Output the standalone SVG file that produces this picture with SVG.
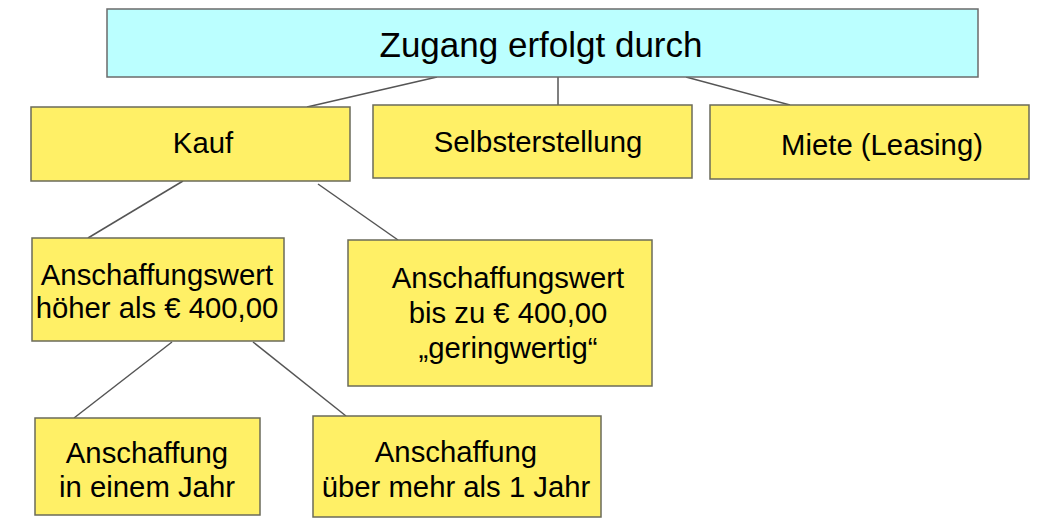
<svg xmlns="http://www.w3.org/2000/svg" width="1047" height="526" viewBox="0 0 1047 526">
<style>
.box{fill:#FFF066;stroke:#6b6b5a;stroke-width:1.5}
.top{fill:#BBFFFF;stroke:#6b6b6b;stroke-width:1.5}
.t{font-family:"Liberation Sans",Arial,sans-serif;font-size:29.3px;fill:#000;text-anchor:middle}
.tt{font-family:"Liberation Sans",Arial,sans-serif;font-size:35px;fill:#000;text-anchor:middle}
.c line{stroke:#555;stroke-width:1.5}
</style>
<rect width="1047" height="526" fill="#fff"/>
<g class="c" id="connectors">
<line x1="437" y1="77" x2="307" y2="107"/>
<line x1="558" y1="77" x2="558" y2="105"/>
<line x1="686" y1="77" x2="790" y2="105"/>
<line x1="183" y1="181" x2="88" y2="238"/>
<line x1="318" y1="184" x2="398" y2="240"/>
<line x1="172" y1="342" x2="74" y2="418"/>
<line x1="253" y1="342" x2="346" y2="416"/>
</g>
<g id="n_zugang">
<rect class="top" x="107" y="9" width="871" height="68"/>
<text class="tt" x="541" y="57">Zugang erfolgt durch</text>
</g>
<g id="n_kauf">
<rect class="box" x="31" y="107" width="319" height="74"/>
<text class="t" x="203" y="153">Kauf</text>
</g>
<g id="n_selbst">
<rect class="box" x="373" y="105" width="319" height="73"/>
<text class="t" x="538" y="152">Selbsterstellung</text>
</g>
<g id="n_miete">
<rect class="box" x="710" y="105" width="319" height="74"/>
<text class="t" x="882" y="155">Miete (Leasing)</text>
</g>
<g id="n_hoeher">
<rect class="box" x="32" y="238" width="252" height="103"/>
<text class="t" x="157" y="285">Anschaffungswert</text>
<text class="t" x="157" y="318">höher als € 400,00</text>
</g>
<g id="n_bis">
<rect class="box" x="348" y="240" width="304" height="146"/>
<text class="t" x="508" y="288">Anschaffungswert</text>
<text class="t" x="508" y="323">bis zu € 400,00</text>
<text class="t" x="508" y="358">„geringwertig“</text>
</g>
<g id="n_einjahr">
<rect class="box" x="35" y="418" width="225" height="97"/>
<text class="t" x="147" y="463">Anschaffung</text>
<text class="t" x="147" y="497">in einem Jahr</text>
</g>
<g id="n_mehrjahr">
<rect class="box" x="313" y="416" width="288" height="101"/>
<text class="t" x="456" y="462">Anschaffung</text>
<text class="t" x="456" y="497">über mehr als 1 Jahr</text>
</g>
</svg>
